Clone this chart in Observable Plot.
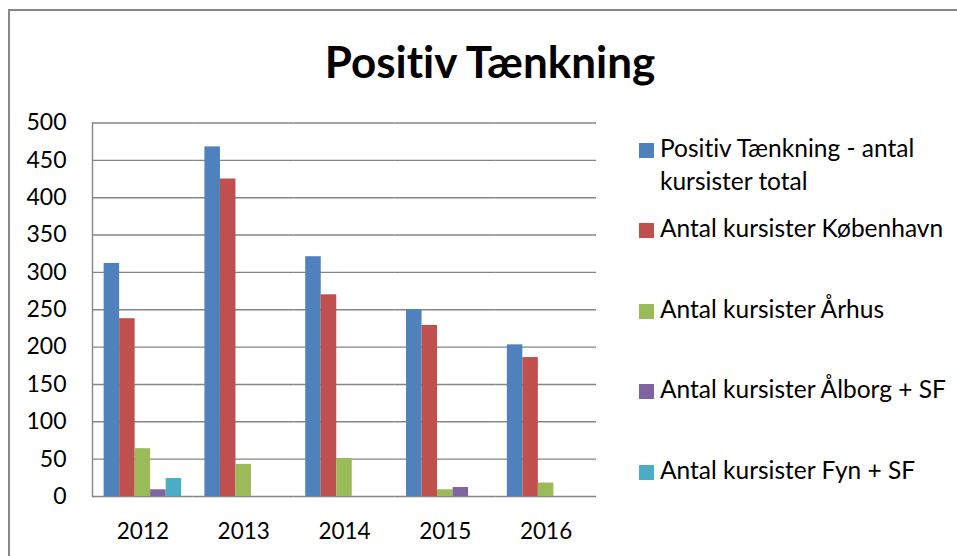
<!DOCTYPE html>
<html>
<head>
<meta charset="utf-8">
<script src="https://cdn.jsdelivr.net/npm/d3@7"></script>
<script src="https://cdn.jsdelivr.net/npm/@observablehq/plot@0.6"></script>
<style>
  body { margin: 0; background: #fff; }
  #wrap { position: relative; width: 957px; height: 556px; overflow: hidden; font-family: Lato, "Liberation Sans", sans-serif; color: #000; font-variant-ligatures: none; font-feature-settings: "liga" 0, "clig" 0; }
  #border { position: absolute; left: 8px; top: 9px; width: 1000px; height: 600px; border-left: 2px solid #898989; border-top: 2px solid #898989; box-sizing: border-box; }
  #chart { position: absolute; left: 0; top: 0; }
  #chart svg { font-variant-ligatures: none; }
  #title { position: absolute; left: 490px; top: 36px; transform: translateX(-50%); white-space: nowrap; font-weight: bold; font-size: 44px; line-height: 50px; }
  .item { position: absolute; left: 639px; width: 318px; }
  .sw { position: absolute; left: 0; width: 15px; height: 15px; }
  .lab { position: absolute; left: 21px; width: 296px; font-size: 24.5px; line-height: 33.4px; }
</style>
</head>
<body>
<div id="wrap">
  <div id="border"></div>
  <div id="chart"></div>
  <div id="title"></div>
  <div id="legend"></div>
</div>
<script>
const title = "Positiv Tænkning";
const years = ["2012", "2013", "2014", "2015", "2016"];
const series = [
  "Positiv Tænkning - antal kursister total",
  "Antal kursister København",
  "Antal kursister Århus",
  "Antal kursister Ålborg + SF",
  "Antal kursister Fyn + SF"
];
const colors = ["#4F81BD", "#C0504D", "#9BBB59", "#8064A2", "#4BACC6"];
const total    = [312, 468, 321, 250, 203];
const kbh      = [238, 425, 270, 229, 186];
const aarhus   = [64, 43, 51, 9, 18];
const aalborg  = [9, null, null, 12, null];
const fyn      = [24, null, null, null, null];
const yTicks = [0, 50, 100, 150, 200, 250, 300, 350, 400, 450, 500];

const values = [total, kbh, aarhus, aalborg, fyn];
const rows = [];
years.forEach((y, i) => series.forEach((s, j) => {
  if (values[j][i] != null) rows.push({year: y, series: s, value: values[j][i]});
}));

const chart = Plot.plot({
  width: 957,
  height: 556,
  marginLeft: 92,
  marginRight: 361,
  marginTop: 122.5,
  marginBottom: 60,
  style: {fontFamily: "Lato, 'Liberation Sans', sans-serif", color: "#000", background: "transparent"},
  fx: {domain: years, paddingInner: 0, paddingOuter: 0, round: false, label: null},
  x: {domain: series, paddingInner: 0, paddingOuter: 0.75, round: false, axis: null},
  y: {domain: [0, 500], label: null},
  color: {domain: series, range: colors},
  marks: [
    Plot.ruleY(yTicks, {y: d => d, stroke: "#868686", strokeWidth: 1.4}),
    Plot.barY(rows, {fx: "year", x: "series", y: "value", fill: "series"}),
    Plot.frame({anchor: "left", stroke: "#868686", strokeWidth: 1.4, facetAnchor: "left"}),
    Plot.axisY(yTicks, {tickSize: 0, tickPadding: 26, fontSize: 23, label: null, fill: "#000"}),
    Plot.axisFx({anchor: "bottom", tickSize: 0, tickPadding: 27, fontSize: 22.5, label: null, fill: "#000"})
  ]
});
document.getElementById("chart").appendChild(chart);
document.getElementById("title").textContent = title;

const legend = document.getElementById("legend");
series.forEach((s, i) => {
  const top = 131 + i * 80.4;
  const item = document.createElement("div");
  item.className = "item";
  item.style.top = top + "px";
  const sw = document.createElement("div");
  sw.className = "sw";
  sw.style.background = colors[i];
  sw.style.top = "12px";
  const lab = document.createElement("div");
  lab.className = "lab";
  lab.style.top = "0px";
  lab.textContent = s;
  item.appendChild(sw);
  item.appendChild(lab);
  legend.appendChild(item);
});
</script>
</body>
</html>
